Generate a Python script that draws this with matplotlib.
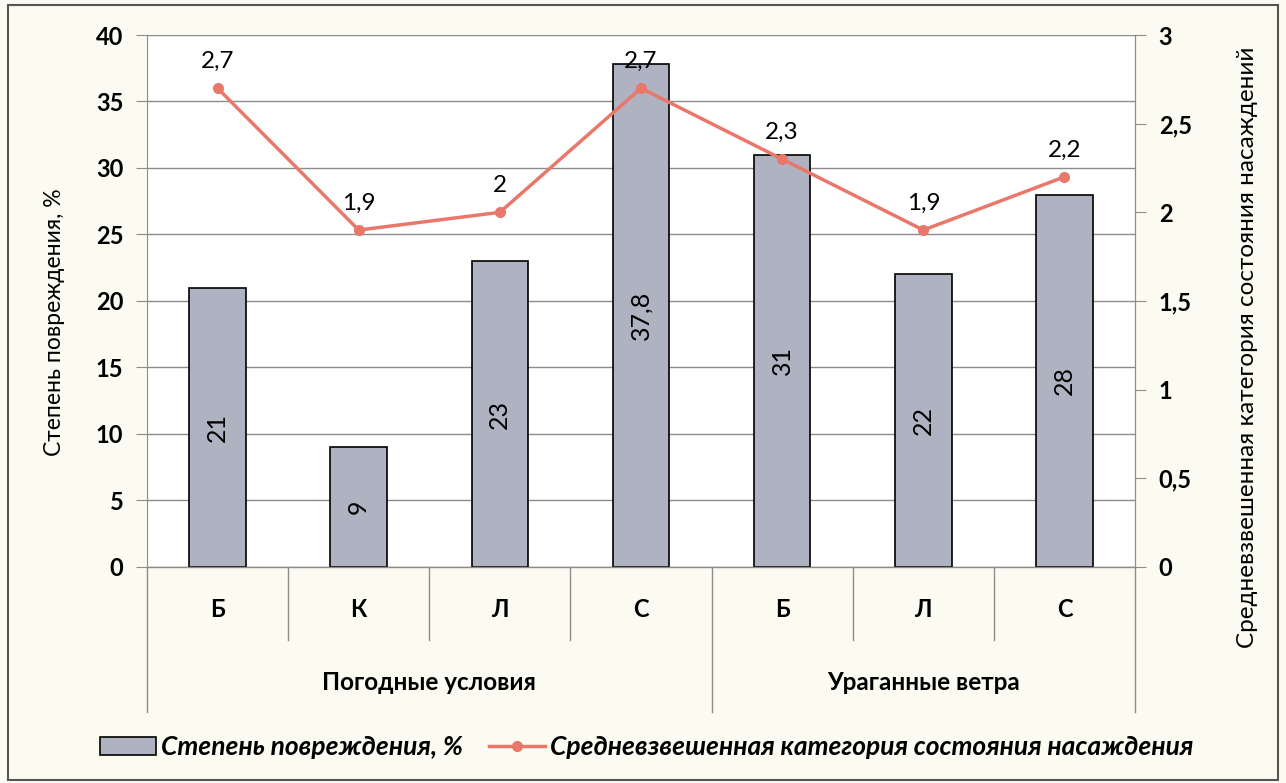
import numpy as np
import matplotlib.pyplot as plt
from matplotlib.patches import Rectangle
from matplotlib.lines import Line2D

plt.rcParams['font.family'] = ['Lato', 'DejaVu Sans']

# data
species = ['Б', 'К', 'Л', 'С', 'Б', 'Л', 'С']
groups = ['Погодные условия', 'Ураганные ветра']
group_size = [4, 3]
damage = [21, 9, 23, 37.8, 31, 22, 28]
category = [2.7, 1.9, 2.0, 2.7, 2.3, 1.9, 2.2]

bar_name = 'Степень повреждения, %'
line_name = 'Средневзвешенная категория состояния насаждения'
ylabel_left = 'Степень повреждения, %'
ylabel_right = 'Средневзвешенная категория состояния насаждений'

bar_color = '#afb2c1'
line_color = '#e9786b'
grid_color = '#8c8c8c'
bg = '#fbfbf1'


def fmt(v):
    s = ('%g' % v).replace('.', ',')
    return s


fig = plt.figure(figsize=(12.86, 7.83), dpi=100, facecolor=bg)
fig.patches.append(Rectangle((0.006, 0.004), 0.988, 0.989, transform=fig.transFigure,
                             fill=False, edgecolor='#555555', lw=1.5))

ax = fig.add_axes([0.1143, 0.2759, 0.7683, 0.6794])
ax.set_facecolor('white')
x = np.arange(len(species))

ax.bar(x, damage, width=0.4, color=bar_color, edgecolor='black', lw=1.2, zorder=2)
for xi, v in zip(x, damage):
    ax.text(xi, v / 2, fmt(v), rotation=90, ha='center', va='center', fontsize=18, zorder=3)

ax.set_xlim(-0.5, len(species) - 0.5)
ax.set_ylim(0, 40)
ax.set_yticks(np.arange(0, 41, 5))
ax.yaxis.grid(True, color=grid_color, lw=1)
ax.set_axisbelow(True)
ax.tick_params(axis='y', direction='out', length=8, color=grid_color, labelsize=17, pad=9)
for lab in ax.get_yticklabels():
    lab.set_fontweight('bold')
ax.set_xticks([])
for s in ['top', 'bottom']:
    ax.spines[s].set_visible(False)
ax.spines['left'].set_color(grid_color)
ax.spines['right'].set_color(grid_color)
ax.set_ylabel(ylabel_left, fontsize=16.5)
ax.yaxis.set_label_coords(-0.083, 0.46)

# two-level category axis
tr = ax.get_xaxis_transform()
ax.plot([-0.5, len(species) - 0.5], [0, 0], color=grid_color, lw=1, transform=tr, clip_on=False)
for i, s in enumerate(species):
    ax.text(i, -0.08, s, ha='center', va='center', fontsize=17, fontweight='bold', transform=tr)
bounds = np.cumsum([0] + group_size) - 0.5
for b in np.arange(-0.5, len(species)):
    depth = -0.273 if b in bounds else -0.137
    ax.plot([b, b], [0, depth], color=grid_color, lw=1, transform=tr, clip_on=False)
for g, lo, hi in zip(groups, bounds[:-1], bounds[1:]):
    ax.text((lo + hi) / 2, -0.218, g, ha='center', va='center', fontsize=17.5,
            fontweight='bold', transform=tr)

ax2 = ax.twinx()
ax2.plot(x, category, color=line_color, lw=2.5, marker='o', ms=7, zorder=4)
for xi, v in zip(x, category):
    ax2.annotate(fmt(v), (xi, v), xytext=(0, 19), textcoords='offset points',
                 ha='center', va='center', fontsize=17.5)
ax2.set_ylim(0, 3)
ax2.set_yticks(np.arange(0, 3.01, 0.5))
ax2.set_yticklabels([fmt(t) for t in np.arange(0, 3.01, 0.5)], fontweight='bold')
ax2.tick_params(axis='y', direction='out', length=8, color=grid_color, labelsize=17, pad=9)
for s in ['top', 'bottom', 'left']:
    ax2.spines[s].set_visible(False)
ax2.spines['right'].set_color(grid_color)
ax2.set_ylabel(ylabel_right, fontsize=17.5)
ax2.yaxis.set_label_coords(1.103, 0.4135)

handles = [Rectangle((0, 0), 1, 1, facecolor=bar_color, edgecolor='black', lw=1.2),
           Line2D([], [], color=line_color, lw=2.5, marker='o', ms=7)]
fig.legend(handles, [bar_name, line_name], loc='center', bbox_to_anchor=(0.503, 0.046),
           ncol=2, frameon=False, prop={'size': 19, 'weight': 'bold', 'style': 'italic'},
           handlelength=2.1, handletextpad=0.2, columnspacing=1.0)

fig.savefig('out.png', dpi=100, facecolor=bg)
